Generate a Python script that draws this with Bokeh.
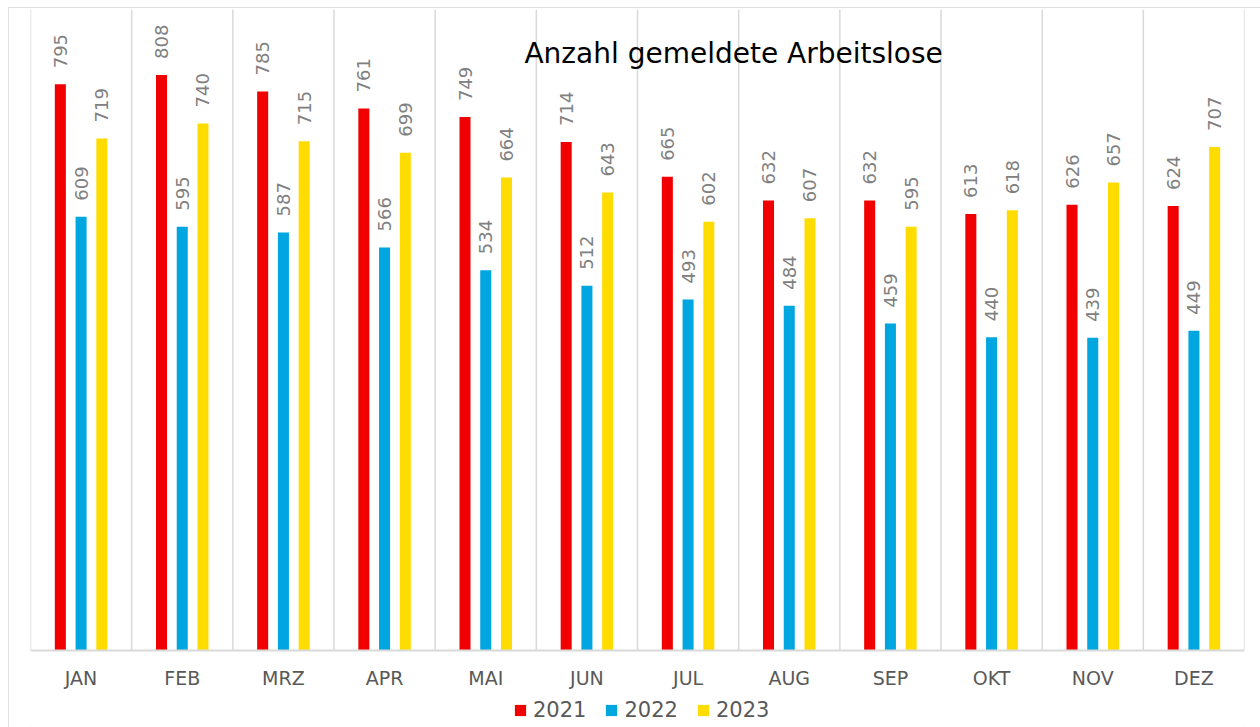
from bokeh.plotting import figure
from bokeh.models import ColumnDataSource, FactorRange, Legend, LegendItem, Label, Span
from bokeh.transform import dodge
from bokeh.core.properties import value
from bokeh.embed import file_html
from bokeh.resources import INLINE

months = ["JAN", "FEB", "MRZ", "APR", "MAI", "JUN", "JUL", "AUG", "SEP", "OKT", "NOV", "DEZ"]
y2021 = [795, 808, 785, 761, 749, 714, 665, 632, 632, 613, 626, 624]
y2022 = [609, 595, 587, 566, 534, 512, 493, 484, 459, 440, 439, 449]
y2023 = [719, 740, 715, 699, 664, 643, 602, 607, 595, 618, 657, 707]
years = ["2021", "2022", "2023"]
title_text = "Anzahl gemeldete Arbeitslose"

colors = ["#F00000", "#00A6E0", "#FFDC00"]
FONT = "DejaVu Sans"

src = ColumnDataSource(dict(
    months=months,
    y2021=y2021, y2022=y2022, y2023=y2023,
    l2021=[str(v) for v in y2021],
    l2022=[str(v) for v in y2022],
    l2023=[str(v) for v in y2023],
))

# frame extends below the zero line so the category labels and legend fit inside it
p = figure(x_range=FactorRange(*months), y_range=(-108.1, 900),
           width=1252, height=720, output_backend="svg", toolbar_location=None,
           min_border_left=22, min_border_right=16, min_border_top=2, min_border_bottom=0)
p.margin = (7, 0, 0, 8)
p.styles = {"outline": "2px solid #D9D9D9", "outline-offset": "-2px"}
p.outline_line_color = None
p.background_fill_color = "white"
p.border_fill_color = "white"
p.ygrid.grid_line_color = None
p.xgrid.grid_line_color = None
p.yaxis.visible = False
p.xaxis.visible = False

# category separators
sep_src = ColumnDataSource(dict(m=months))
p.segment(x0=dodge("m", -0.5, range=p.x_range), x1=dodge("m", -0.5, range=p.x_range),
          y0=0, y1=900, source=sep_src, line_color="#D9D9D9", line_width=1.5)
p.segment(x0=dodge("m", 0.5, range=p.x_range), x1=dodge("m", 0.5, range=p.x_range),
          y0=0, y1=900, source=ColumnDataSource(dict(m=months[-1:])),
          line_color="#D9D9D9", line_width=1.5)

# category axis line
p.add_layout(Span(location=0, dimension="width", line_color="#D9D9D9", line_width=2))

offsets = [-0.205, 0.0, 0.205]
renderers = []
for yr, col, off in zip(years, colors, offsets):
    r = p.vbar(x=dodge("months", off, range=p.x_range), top="y" + yr, width=0.109,
               source=src, fill_color=col, line_color=None)
    renderers.append(r)
    p.text(x=dodge("months", off, range=p.x_range), y="y" + yr, text="l" + yr,
           source=src, angle=1.5708, text_align="left", text_baseline="middle",
           x_offset=0, y_offset=-16, text_color="#808080",
           text_font=value(FONT), text_font_size="18px")

# category labels
p.text(x="months", y=0, text="months", source=src, text_align="center",
       text_baseline="middle", y_offset=27, text_color="#595959",
       text_font=value(FONT), text_font_size="19px")

title = Label(x=6.95, y=838, text=title_text, text_align="center", text_baseline="middle",
              text_font=FONT, text_font_size="28px", text_color="#000000")
p.add_layout(title)

legend = Legend(items=[LegendItem(label=yr, renderers=[r]) for yr, r in zip(years, renderers)],
                orientation="horizontal", location=(483, 5),
                glyph_width=14, glyph_height=14, label_text_font=FONT,
                label_text_font_size="21px", label_text_color="#595959",
                border_line_color=None, background_fill_alpha=0,
                margin=0, padding=4, spacing=18, label_standoff=6)
p.add_layout(legend, "center")

open("out.html", "w").write(file_html(p, INLINE))
